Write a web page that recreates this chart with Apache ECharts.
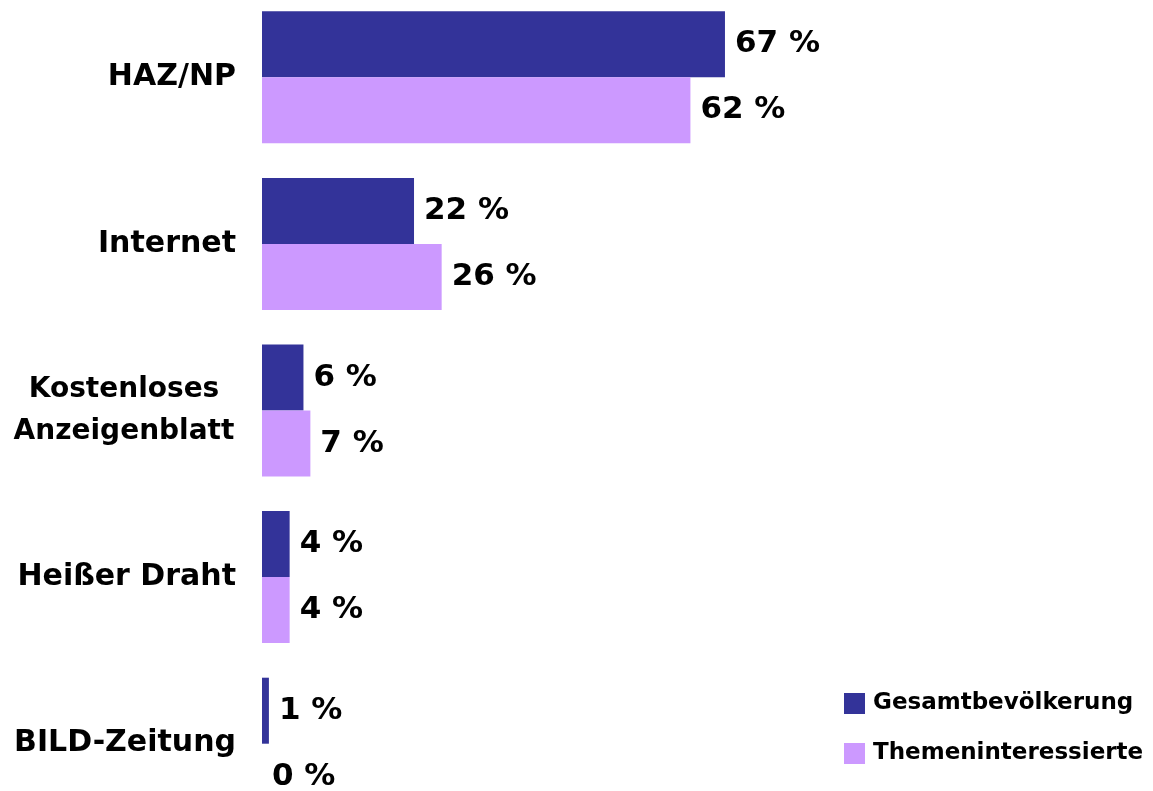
<!DOCTYPE html>
<html>
<head>
    <meta charset="utf-8">
    <script src="https://cdn.jsdelivr.net/npm/echarts@6/dist/echarts.min.js"></script>
    <style>
        html, body { margin: 0; padding: 0; background: #fff; }
    </style>
</head>
<body>
    <div id="main" style="width: 1153px;height:791px;"></div>
    <script type="text/javascript">
        // Daten
        var categories = ['HAZ/NP', 'Internet', 'Kostenloses\nAnzeigenblatt', 'Heißer Draht', 'BILD-Zeitung'];
        var seriesNames = ['Gesamtbevölkerung', 'Themeninteressierte'];
        var gesamt = [67, 22, 6, 4, 1];
        var themen = [62, 26, 7, 4, 0];

        var colors = ['#333399', '#cc99ff'];
        var fontFam = '"DejaVu Sans", Verdana, sans-serif';

        var myChart = echarts.init(document.getElementById('main'));

        var valueLabel = {
            show: true,
            position: 'right',
            distance: 10,
            formatter: '{c} %',
            color: '#000',
            fontSize: 31,
            fontWeight: 'bold',
            fontFamily: fontFam
        };

        myChart.setOption({
            animation: false,
            color: colors,
            grid: {
                left: 262,
                top: -6,
                width: 691,
                height: 833,
                outerBoundsMode: 'none'
            },
            legend: {
                orient: 'vertical',
                left: 839,
                top: 687,
                itemWidth: 21,
                itemHeight: 21,
                itemGap: 27,
                icon: 'rect',
                textStyle: {
                    color: '#000',
                    fontSize: 23,
                    fontWeight: 'bold',
                    fontFamily: fontFam,
                    padding: [0, 0, 0, 3]
                },
                data: seriesNames
            },
            xAxis: {
                type: 'value',
                min: 0,
                max: 100,
                show: false
            },
            yAxis: {
                type: 'category',
                inverse: true,
                data: categories,
                axisLine: { show: false },
                axisTick: { show: false },
                axisLabel: {
                    margin: 26,
                    color: '#000',
                    fontSize: 30,
                    fontWeight: 'bold',
                    fontFamily: fontFam,
                    align: 'right',
                    lineHeight: 42,
                    // zweizeilige Beschriftung zentriert
                    formatter: function (v) {
                        if (v.indexOf('\n') < 0) return v;
                        return v.split('\n').map(function (s) { return '{c|' + s + '}'; }).join('\n');
                    },
                    rich: {
                        c: {
                            width: 224,
                            align: 'center',
                            fontSize: 28,
                            fontWeight: 'bold',
                            fontFamily: fontFam,
                            color: '#000',
                            lineHeight: 42
                        }
                    }
                }
            },
            series: [
                {
                    name: seriesNames[0],
                    type: 'bar',
                    barWidth: 66,
                    barGap: '0%',
                    data: gesamt,
                    label: valueLabel
                },
                {
                    name: seriesNames[1],
                    type: 'bar',
                    barWidth: 66,
                    barGap: '0%',
                    data: themen,
                    label: valueLabel
                }
            ]
        });
    </script>
</body>
</html>
